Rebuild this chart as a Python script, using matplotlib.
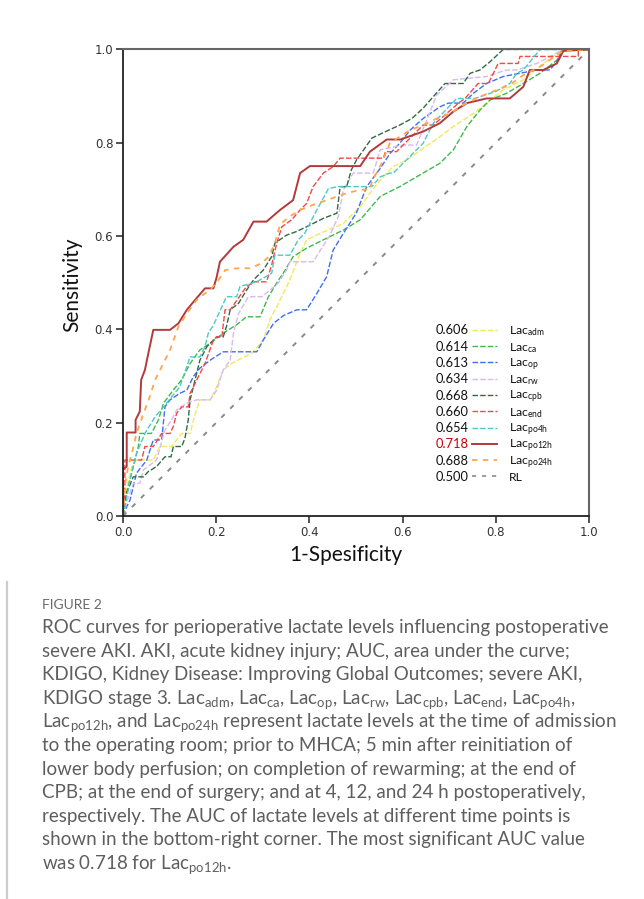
import matplotlib.pyplot as plt
from matplotlib.lines import Line2D

# --- ROC curve points ---
fpr_adm = [0, 0.008, 0.019, 0.029, 0.065, 0.079, 0.104, 0.126, 0.144, 0.155, 0.165, 0.187, 0.201, 0.215,
           0.233, 0.276, 0.301, 0.315, 0.33, 0.358, 0.38, 0.394, 0.43, 0.473, 0.509, 0.53, 0.552, 0.58,
           0.609, 0.644, 0.68, 0.709, 0.752, 0.78, 0.816, 0.859, 0.902, 0.927, 0.945, 1.0]
tpr_adm = [0, 0.06, 0.106, 0.12, 0.12, 0.149, 0.149, 0.177, 0.177, 0.22, 0.249, 0.249, 0.277, 0.313,
           0.327, 0.349, 0.377, 0.42, 0.449, 0.506, 0.563, 0.592, 0.609, 0.627, 0.663, 0.692, 0.72, 0.749,
           0.763, 0.788, 0.813, 0.835, 0.863, 0.885, 0.913, 0.935, 0.97, 0.988, 1.0, 1.0]

fpr_ca = [0, 0.008, 0.022, 0.033, 0.036, 0.061, 0.076, 0.087, 0.108, 0.126, 0.144, 0.165, 0.187, 0.215,
          0.244, 0.265, 0.294, 0.312, 0.33, 0.348, 0.365, 0.394, 0.43, 0.473, 0.509, 0.552, 0.594, 0.637,
          0.68, 0.709, 0.738, 0.766, 0.788, 0.823, 0.859, 0.895, 0.931, 0.945, 1.0]
tpr_ca = [0, 0.05, 0.106, 0.149, 0.177, 0.177, 0.206, 0.242, 0.27, 0.292, 0.327, 0.356, 0.37, 0.392,
          0.41, 0.427, 0.427, 0.47, 0.5, 0.527, 0.556, 0.574, 0.592, 0.613, 0.635, 0.685, 0.706, 0.731,
          0.756, 0.785, 0.835, 0.87, 0.892, 0.906, 0.927, 0.949, 0.977, 1.0, 1.0]

fpr_op = [0, 0.008, 0.015, 0.029, 0.051, 0.065, 0.083, 0.09, 0.101, 0.122, 0.137, 0.151, 0.165, 0.187,
          0.215, 0.287, 0.301, 0.323, 0.345, 0.373, 0.394, 0.416, 0.437, 0.451, 0.473, 0.501, 0.523, 0.552,
          0.573, 0.594, 0.616, 0.644, 0.68, 0.698, 0.73, 0.752, 0.78, 0.816, 0.888, 0.916, 0.931, 0.941, 1.0]
tpr_op = [0, 0.02, 0.034, 0.092, 0.12, 0.163, 0.163, 0.234, 0.249, 0.263, 0.27, 0.299, 0.317, 0.334,
          0.352, 0.352, 0.377, 0.413, 0.43, 0.442, 0.442, 0.477, 0.513, 0.57, 0.606, 0.65, 0.706, 0.745,
          0.777, 0.799, 0.827, 0.852, 0.877, 0.885, 0.885, 0.906, 0.927, 0.942, 0.956, 0.956, 0.974, 0.997, 1.0]

fpr_rw = [0, 0.008, 0.022, 0.036, 0.044, 0.072, 0.09, 0.104, 0.115, 0.137, 0.158, 0.187, 0.201, 0.215,
          0.23, 0.237, 0.248, 0.269, 0.298, 0.333, 0.351, 0.358, 0.38, 0.408, 0.444, 0.462, 0.473, 0.494,
          0.537, 0.552, 0.602, 0.63, 0.652, 0.673, 0.709, 0.78, 0.823, 0.845, 0.888, 0.923, 0.938, 1.0]
tpr_rw = [0, 0.03, 0.07, 0.07, 0.099, 0.12, 0.184, 0.206, 0.227, 0.242, 0.249, 0.249, 0.27, 0.313,
          0.334, 0.392, 0.434, 0.47, 0.47, 0.499, 0.527, 0.545, 0.545, 0.545, 0.602, 0.642, 0.699, 0.735,
          0.735, 0.785, 0.795, 0.795, 0.849, 0.902, 0.935, 0.942, 0.956, 0.956, 0.97, 0.988, 0.997, 1.0]

fpr_cpb = [0, 0.008, 0.022, 0.044, 0.054, 0.072, 0.09, 0.103, 0.108, 0.126, 0.133, 0.14, 0.144, 0.151,
           0.165, 0.18, 0.201, 0.215, 0.222, 0.23, 0.248, 0.265, 0.28, 0.301, 0.319, 0.326, 0.351, 0.373,
           0.394, 0.43, 0.459, 0.466, 0.48, 0.49, 0.501, 0.534, 0.555, 0.594, 0.62, 0.644, 0.666, 0.691,
           0.73, 0.745, 0.766, 0.788, 0.816, 1.0]
tpr_cpb = [0, 0.05, 0.084, 0.084, 0.095, 0.106, 0.127, 0.127, 0.149, 0.149, 0.167, 0.206, 0.249, 0.277,
           0.334, 0.363, 0.384, 0.384, 0.406, 0.442, 0.456, 0.484, 0.506, 0.527, 0.556, 0.585, 0.602, 0.61,
           0.62, 0.638, 0.649, 0.706, 0.706, 0.742, 0.763, 0.81, 0.82, 0.838, 0.852, 0.874, 0.899, 0.927,
           0.927, 0.949, 0.956, 0.974, 1.0, 1.0]

fpr_end = [0, 0.004, 0.004, 0.04, 0.047, 0.065, 0.083, 0.101, 0.108, 0.115, 0.126, 0.14, 0.144, 0.176,
           0.194, 0.201, 0.212, 0.219, 0.23, 0.265, 0.283, 0.308, 0.319, 0.33, 0.341, 0.362, 0.38, 0.394,
           0.408, 0.43, 0.451, 0.466, 0.559, 0.563, 0.587, 0.644, 0.666, 0.72, 0.734, 0.762, 0.784, 0.805,
           0.848, 0.852, 0.977, 0.977, 1.0]
tpr_end = [0, 0.06, 0.12, 0.12, 0.149, 0.149, 0.177, 0.177, 0.192, 0.22, 0.234, 0.234, 0.263, 0.327,
           0.377, 0.384, 0.384, 0.442, 0.442, 0.492, 0.502, 0.502, 0.538, 0.585, 0.62, 0.635, 0.656, 0.67,
           0.706, 0.735, 0.749, 0.767, 0.767, 0.781, 0.781, 0.838, 0.838, 0.885, 0.895, 0.927, 0.927, 0.97,
           0.97, 0.985, 0.985, 1.0, 1.0]

fpr_po4h = [0, 0.008, 0.015, 0.029, 0.047, 0.069, 0.087, 0.122, 0.144, 0.165, 0.176, 0.183, 0.194, 0.222,
            0.244, 0.251, 0.287, 0.319, 0.326, 0.358, 0.376, 0.39, 0.416, 0.441, 0.462, 0.534, 0.552, 0.573,
            0.58, 0.644, 0.666, 0.716, 0.755, 0.8, 0.83, 0.845, 0.859, 0.895, 1.0]
tpr_po4h = [0, 0.04, 0.077, 0.134, 0.177, 0.213, 0.234, 0.277, 0.341, 0.341, 0.363, 0.392, 0.409, 0.47,
            0.47, 0.492, 0.502, 0.52, 0.559, 0.559, 0.592, 0.606, 0.656, 0.702, 0.706, 0.706, 0.727, 0.735,
            0.735, 0.799, 0.842, 0.895, 0.895, 0.91, 0.927, 0.949, 0.956, 1.0, 1.0]

fpr_po12h = [0, 0, 0.008, 0.008, 0.027, 0.027, 0.036, 0.039, 0.047, 0.054, 0.065, 0.101, 0.119, 0.137,
             0.158, 0.176, 0.194, 0.201, 0.208, 0.237, 0.258, 0.28, 0.308, 0.337, 0.365, 0.38, 0.401, 0.509,
             0.53, 0.566, 0.595, 0.644, 0.68, 0.709, 0.738, 0.78, 0.83, 0.859, 0.873, 0.902, 0.931, 0.945, 1.0]
tpr_po12h = [0, 0.1, 0.106, 0.179, 0.179, 0.206, 0.224, 0.292, 0.313, 0.347, 0.399, 0.399, 0.413, 0.442,
             0.467, 0.488, 0.488, 0.512, 0.545, 0.577, 0.592, 0.631, 0.631, 0.656, 0.677, 0.735, 0.75, 0.75,
             0.781, 0.807, 0.807, 0.824, 0.842, 0.867, 0.885, 0.895, 0.895, 0.92, 0.956, 0.956, 0.97, 0.997, 1.0]

fpr_po24h = [0, 0.005, 0.011, 0.019, 0.029, 0.044, 0.055, 0.069, 0.083, 0.101, 0.119, 0.137, 0.158, 0.19,
             0.205, 0.219, 0.244, 0.272, 0.298, 0.313, 0.326, 0.337, 0.358, 0.38, 0.408, 0.437, 0.48, 0.509,
             0.53, 0.535, 0.548, 0.558, 0.573, 0.616, 0.644, 0.673, 0.702, 0.73, 0.766, 0.802, 0.83, 0.859,
             0.895, 0.931, 0.945, 1.0]
tpr_po24h = [0, 0.07, 0.106, 0.134, 0.177, 0.22, 0.249, 0.292, 0.32, 0.356, 0.406, 0.434, 0.463, 0.488,
             0.506, 0.527, 0.531, 0.531, 0.542, 0.556, 0.585, 0.625, 0.642, 0.656, 0.667, 0.677, 0.692, 0.699,
             0.7, 0.72, 0.742, 0.763, 0.8, 0.827, 0.838, 0.852, 0.863, 0.881, 0.899, 0.913, 0.924, 0.945,
             0.963, 0.988, 0.997, 1.0]

rl_x = [0, 1]
rl_y = [0, 1]

subscripts = ['adm', 'ca', 'op', 'rw', 'cpb', 'end', 'po4h', 'po12h', 'po24h']
auc_values = [0.606, 0.614, 0.613, 0.634, 0.668, 0.660, 0.654, 0.718, 0.688, 0.500]

curves = [(fpr_adm, tpr_adm), (fpr_ca, tpr_ca), (fpr_op, tpr_op), (fpr_rw, tpr_rw),
          (fpr_cpb, tpr_cpb), (fpr_end, tpr_end), (fpr_po4h, tpr_po4h),
          (fpr_po12h, tpr_po12h), (fpr_po24h, tpr_po24h)]

# --- Styles ---
colors = ['#f3e85a', '#3dba4a', '#3f6ff0', '#d9b9ef', '#2f6b42', '#f24848', '#4cc9c9', '#b23a3a', '#ffa64a']
styles = [(0, (4, 1.5)), (0, (4, 1.5)), (0, (4, 1.5)), (0, (4, 1.5)), (0, (4, 1.5)),
          (0, (4, 1.5)), (0, (4, 1.5)), '-', (0, (3, 3))]
widths = [1.0, 1.0, 1.0, 1.0, 1.0, 1.0, 1.0, 1.4, 1.3]
rl_color, rl_style = '#8a8a8a', (0, (2.5, 4))

plt.rcParams['font.family'] = ['Lato', 'DejaVu Sans']
plt.rcParams['mathtext.fontset'] = 'dejavusans'

fig = plt.figure(figsize=(6.44, 8.99), dpi=100)
ax = fig.add_axes([0.191, 0.426, 0.7236, 0.519])

for (x, y), c, ls, lw in zip(curves, colors, styles, widths):
    ax.plot(x, y, color=c, linestyle=ls, linewidth=lw)
ax.plot(rl_x, rl_y, color=rl_color, linestyle=rl_style, linewidth=1.4)

ax.set_xlim(0, 1)
ax.set_ylim(0, 1)
ticks = [0, 0.2, 0.4, 0.6, 0.8, 1.0]
ax.set_xticks(ticks)
ax.set_yticks(ticks)
ax.set_xticklabels([f"{t:.1f}" for t in ticks], family='DejaVu Sans')
ax.set_yticklabels([f"{t:.1f}" for t in ticks], family='DejaVu Sans')
ax.tick_params(direction='out', length=5, width=1.2, labelsize=8.5, colors='#333333', pad=2)
for side in ['left', 'bottom']:
    ax.spines[side].set_color('#222222')
    ax.spines[side].set_linewidth(1.3)
for side in ['top', 'right']:
    ax.spines[side].set_color('#666666')
    ax.spines[side].set_linewidth(1.5)

ax.set_xlabel('1-Spesificity', fontsize=15, color='#111111')
ax.set_ylabel('Sensitivity', fontsize=15, color='#111111')
ax.xaxis.set_label_coords(0.479, -0.062)
ax.yaxis.set_label_coords(-0.088, 0.495)

# --- SPSS style legend: AUC, line sample, name ---
row_top, row_step = 0.399, 0.0349
names = [r'$\mathregular{Lac_{%s}}$' % s for s in subscripts] + ['RL']
legend_colors = colors + [rl_color]
legend_styles = styles + [(0, (2.5, 3.5))]
for i, (auc, name) in enumerate(zip(auc_values, names)):
    y = row_top - i * row_step
    ax.text(0.67, y - 0.0098, f"{auc:.3f}", transform=ax.transAxes, fontsize=9.3,
            va='baseline', color='#cc0000' if i == 7 else '#111111')
    ax.add_line(Line2D([0.749, 0.802], [y, y], transform=ax.transAxes,
                       color=legend_colors[i], linestyle=legend_styles[i],
                       linewidth=widths[i] if i < 9 else 1.2))
    ax.text(0.829, y - 0.0098, name, transform=ax.transAxes, fontsize=8.8,
            va='baseline', color='#111111')

# --- Caption ---
caption = [
    "ROC curves for perioperative lactate levels influencing postoperative",
    "severe AKI. AKI, acute kidney injury; AUC, area under the curve;",
    "KDIGO, Kidney Disease: Improving Global Outcomes; severe AKI,",
    r"KDIGO stage 3. $\mathregular{Lac_{adm}}$, $\mathregular{Lac_{ca}}$, $\mathregular{Lac_{op}}$, "
    r"$\mathregular{Lac_{rw}}$, $\mathregular{Lac_{cpb}}$, $\mathregular{Lac_{end}}$, $\mathregular{Lac_{po4h}}$,",
    r"$\mathregular{Lac_{po12h}}$, and $\mathregular{Lac_{po24h}}$ represent lactate levels at the time of admission",
    "to the operating room; prior to MHCA; 5 min after reinitiation of",
    "lower body perfusion; on completion of rewarming; at the end of",
    "CPB; at the end of surgery; and at 4, 12, and 24 h postoperatively,",
    "respectively. The AUC of lactate levels at different time points is",
    "shown in the bottom-right corner. The most significant AUC value",
    r"was 0.718 for $\mathregular{Lac_{po12h}}$.",
]
fig.text(42 / 644, 1 - 609 / 899, 'FIGURE 2', fontsize=10, color='#6a6a6a', va='baseline')
for k, line in enumerate(caption):
    fig.text(42 / 644, 1 - (633 + k * 23.6) / 899, line, fontsize=13.5,
             color='#5e5e5e', va='baseline')

fig.add_artist(Line2D([7 / 644, 7 / 644], [0, 1 - 582 / 899], color='#cccccc', linewidth=1.6))

fig.savefig('out.png', dpi=100, facecolor='white')
